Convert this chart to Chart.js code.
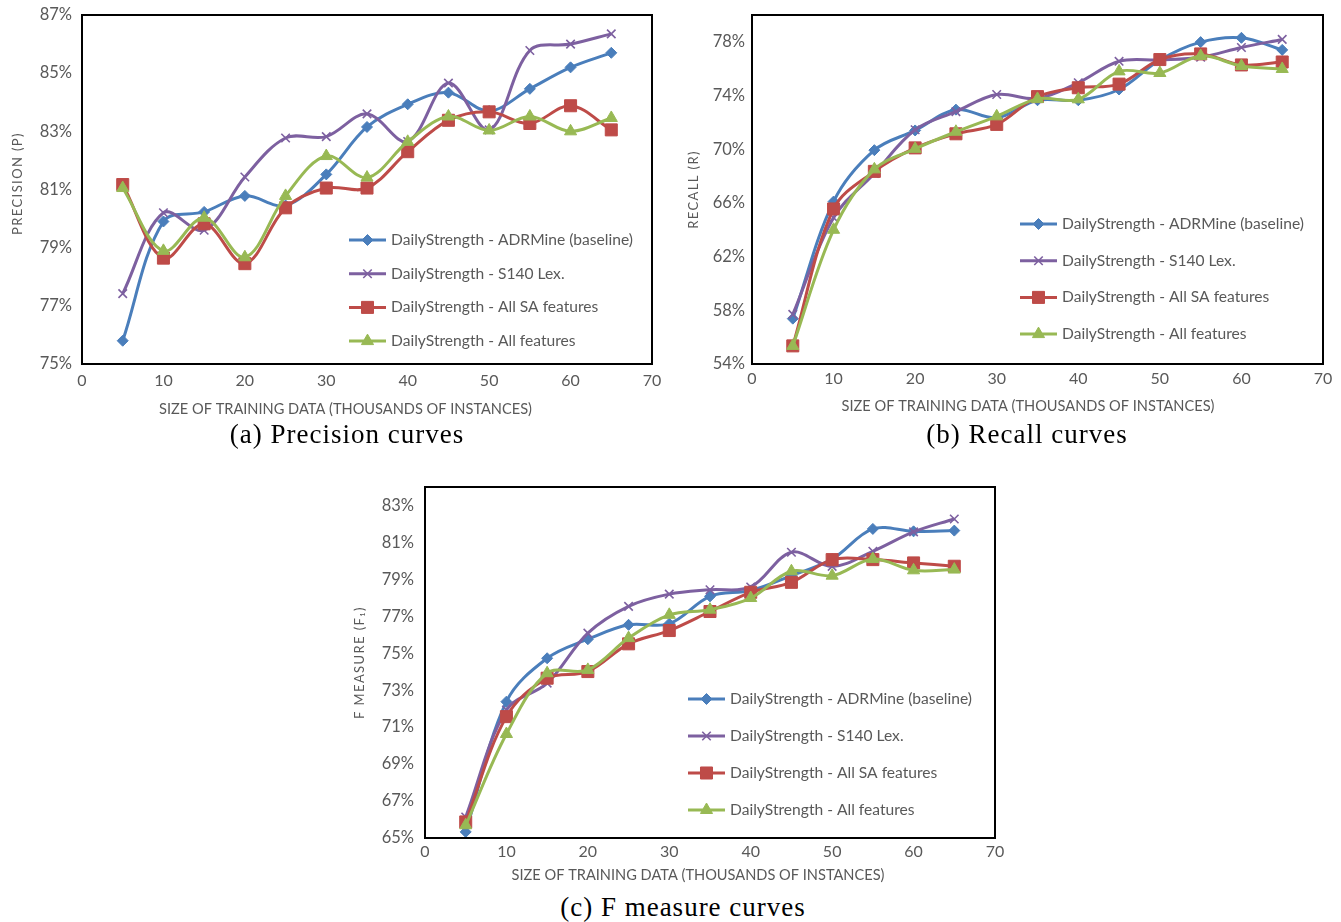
<!DOCTYPE html>
<html><head><meta charset="utf-8">
<script src="https://cdn.jsdelivr.net/npm/chart.js@4.4.1/dist/chart.umd.min.js"></script>
<style>
html,body{margin:0;padding:0;background:#fff;}
body{width:1341px;height:922px;position:relative;overflow:hidden;}
.box{position:absolute;}
.cap{position:absolute;font-family:"Liberation Serif","DejaVu Serif",serif;font-size:27px;letter-spacing:1px;color:#000;white-space:nowrap;transform:translate(-50%,-50%);line-height:1;}
</style></head><body>
<div class="box" style="left:0px;top:0px;width:670px;height:425px"><canvas id="ca"></canvas></div>
<div class="box" style="left:676px;top:0px;width:662px;height:425px"><canvas id="cb"></canvas></div>
<div class="box" style="left:343px;top:472px;width:670px;height:414px"><canvas id="cc"></canvas></div>
<div class="cap" style="left:347px;top:434px">(a) Precision curves</div>
<div class="cap" style="left:1027px;top:434px">(b) Recall curves</div>
<div class="cap" style="left:683px;top:907px">(c) F measure curves</div>
<script>
// ---------- data ----------
const trainingSizes = [5,10,15,20,25,30,35,40,45,50,55,60,65];
const seriesNames = [
  "DailyStrength - ADRMine (baseline)",
  "DailyStrength - S140 Lex.",
  "DailyStrength - All SA features",
  "DailyStrength - All features"
];
const precisionBaseline = [75.8,79.9,80.23,80.78,80.45,81.52,83.15,83.93,84.33,83.7,84.46,85.2,85.7];
const precisionS140     = [77.42,80.2,79.6,81.43,82.77,82.82,83.6,82.65,84.66,83.05,85.78,86.0,86.35];
const precisionAllSA    = [81.17,78.64,79.82,78.45,80.37,81.05,81.05,82.3,83.38,83.67,83.27,83.88,83.05];
const precisionAll      = [81.05,78.89,80.03,78.67,80.78,82.15,81.41,82.64,83.51,83.03,83.51,83.0,83.46];

const recallBaseline = [57.38,66.1,69.93,71.4,72.95,72.35,73.65,73.65,74.45,76.65,77.98,78.3,77.4];
const recallS140     = [57.7,64.9,68.2,71.45,72.8,74.08,73.78,74.95,76.55,76.65,76.85,77.58,78.18];
const recallAllSA    = [55.35,65.55,68.35,70.1,71.15,71.85,73.92,74.58,74.85,76.68,77.1,76.28,76.5];
const recallAll      = [55.35,64.0,68.5,70.03,71.3,72.45,73.75,73.72,75.8,75.68,76.95,76.2,75.98];

const fBaseline = [65.33,72.38,74.73,75.76,76.54,76.6,78.08,78.4,79.2,80.1,81.73,81.6,81.64];
const fS140     = [66.14,71.93,73.38,76.09,77.54,78.2,78.44,78.59,80.47,79.7,80.52,81.57,82.27];
const fAllSA    = [65.87,71.57,73.65,74.01,75.51,76.23,77.26,78.3,78.84,80.07,80.07,79.89,79.71];
const fAll      = [65.69,70.63,73.92,74.1,75.82,77.08,77.36,77.99,79.44,79.2,80.1,79.49,79.53];

const xTicks = [0,10,20,30,40,50,60,70];
const precisionTicks = [75,77,79,81,83,85,87];
const recallTicks = [54,58,62,66,70,74,78];
const fTicks = [65,67,69,71,73,75,77,79,81,83];

const xTitle = "SIZE OF TRAINING DATA (THOUSANDS OF INSTANCES)";

// ---------- styles ----------
const seriesStyles = [
  {color:"#4A7EBB", pointStyle:"rectRot", radius:5.5, pbw:1},
  {color:"#7D60A0", pointStyle:"crossRot", radius:6, pbw:1.6},
  {color:"#BE4B48", pointStyle:"rect", radius:8.5, pbw:1},
  {color:"#98B954", pointStyle:"triangle", radius:7, pbw:1}
];
const GRAY = "#595959";
Chart.defaults.font.family = "Lato, 'Open Sans', sans-serif";
Chart.defaults.color = GRAY;

function makeDatasets(seriesList){
  return seriesList.map((vals,i)=>{
    const s = seriesStyles[i];
    return {
      label: seriesNames[i],
      data: trainingSizes.map((x,j)=>({x:x, y:vals[j]})),
      borderColor: s.color, backgroundColor: s.color,
      pointBackgroundColor: s.color, pointBorderColor: s.color,
      pointStyle: s.pointStyle, pointRadius: s.radius, pointBorderWidth: s.pbw,
      borderWidth: 3, tension: 0.35, fill:false,
      order: 3 - i
    };
  });
}

const frame = {
  id:'frame',
  afterDraw(chart){
    const {ctx, chartArea:a} = chart;
    ctx.save(); ctx.strokeStyle = '#000'; ctx.lineWidth = 2;
    ctx.strokeRect(a.left, a.top, a.right - a.left, a.bottom - a.top);
    ctx.restore();
  }
};

const axisTitles = {
  id:'axisTitles',
  afterDraw(chart, args, o){
    const {ctx, chartArea:a} = chart;
    ctx.save();
    ctx.translate(a.left - o.yDx, (a.top + a.bottom)/2 + (o.yDy||0));
    ctx.rotate(-Math.PI/2);
    ctx.font = "13px Lato, sans-serif";
    try { ctx.letterSpacing = "1.4px"; } catch(e){}
    ctx.fillStyle = GRAY; ctx.textAlign = 'center'; ctx.textBaseline = 'middle';
    ctx.fillText(o.yText, 0, 0);
    ctx.restore();
    ctx.save();
    ctx.font = "14.6px Lato, sans-serif";
    ctx.fillStyle = GRAY; ctx.textAlign = 'center'; ctx.textBaseline = 'middle';
    ctx.fillText(o.xText, (a.left + a.right)/2 + o.xDx, a.bottom + o.xDy);
    ctx.restore();
  }
};

const insideLegend = {
  id:'insideLegend',
  afterDraw(chart, args, o){
    const {ctx, chartArea:a} = chart;
    const x0 = a.left + o.dx, y0 = a.top + o.dy;
    ctx.save();
    chart.data.datasets.forEach((ds,i)=>{
      const y = y0 + i*o.gap;
      ctx.strokeStyle = ds.borderColor; ctx.lineWidth = ds.borderWidth;
      ctx.beginPath(); ctx.moveTo(x0,y); ctx.lineTo(x0+o.len,y); ctx.stroke();
      ctx.fillStyle = ds.pointBackgroundColor; ctx.strokeStyle = ds.pointBorderColor; ctx.lineWidth = ds.pointBorderWidth;
      Chart.helpers.drawPoint(ctx, {pointStyle: ds.pointStyle, radius: ds.pointRadius, rotation:0, borderWidth: ds.pointBorderWidth}, x0 + o.len/2, y);
      ctx.font = o.font; ctx.fillStyle = GRAY; ctx.textAlign='left'; ctx.textBaseline='middle';
      ctx.fillText(ds.label, x0 + o.len + o.textGap, y);
    });
    ctx.restore();
  }
};

function makeChart(id, seriesList, yMin, yMax, yTickList, cfg){
  return new Chart(document.getElementById(id), {
    type:'line',
    data:{ datasets: makeDatasets(seriesList) },
    options:{
      responsive:true, maintainAspectRatio:false, animation:false,
      layout:{ padding:{ top:15, right:cfg.padRight, left:0, bottom:0 } },
      scales:{
        x:{
          type:'linear', min:0, max:70,
          afterBuildTicks:(s)=>{ s.ticks = xTicks.map(v=>({value:v})); },
          afterFit:(s)=>{ s.height = cfg.xHeight; },
          grid:{ display:false, drawTicks:false },
          border:{ display:false },
          ticks:{ font:{size:16}, color:GRAY, padding:cfg.xTickPad, maxRotation:0 },
          title:{ display:false }
        },
        y:{
          type:'linear', min:yMin, max:yMax,
          afterBuildTicks:(s)=>{ s.ticks = yTickList.map(v=>({value:v})); },
          afterFit:(s)=>{ s.width = cfg.yWidth; },
          grid:{ display:false, drawTicks:false },
          border:{ display:false },
          ticks:{ font:{size:16.5, lineHeight:0.4}, color:GRAY, padding:cfg.yTickPad, callback:(v)=>v+'%' }
        }
      },
      plugins:{
        legend:{display:false}, tooltip:{enabled:false},
        axisTitles:{ yText:cfg.yTitle, yDx:cfg.yTitleDx, yDy:cfg.yTitleDy, xText:xTitle, xDx:cfg.xTitleDx, xDy:cfg.xTitleDy },
        insideLegend:{ dx:cfg.legDx, dy:cfg.legDy, gap:cfg.legGap, len:37, textGap:5, font:"15.6px Lato, sans-serif" }
      }
    },
    plugins:[frame, axisTitles, insideLegend]
  });
}

makeChart('ca', [precisionBaseline, precisionS140, precisionAllSA, precisionAll], 75, 87, precisionTicks,
  {padRight:18, xHeight:61, xTickPad:7, yWidth:82, yTickPad:10,
   yTitle:"PRECISION (P)", yTitleDx:64, yTitleDy:-6, xTitleDx:-21.5, xTitleDy:45,
   legDx:267, legDy:225, legGap:33.7});
makeChart('cb', [recallBaseline, recallS140, recallAllSA, recallAll], 54, 80, recallTicks,
  {padRight:15, xHeight:61, xTickPad:5, yWidth:76, yTickPad:7,
   yTitle:"RECALL (R)", yTitleDx:58, yTitleDy:0, xTitleDx:-9.5, xTitleDy:42,
   legDx:268, legDy:209, legGap:36.7});
makeChart('cc', [fBaseline, fS140, fAllSA, fAll], 65, 84, fTicks,
  {padRight:18, xHeight:48, xTickPad:4, yWidth:82, yTickPad:11,
   yTitle:"F MEASURE (F\u2081)", yTitleDx:65, yTitleDy:0, xTitleDx:-12, xTitleDy:37,
   legDx:263, legDy:212, legGap:37});
</script>
</body></html>
